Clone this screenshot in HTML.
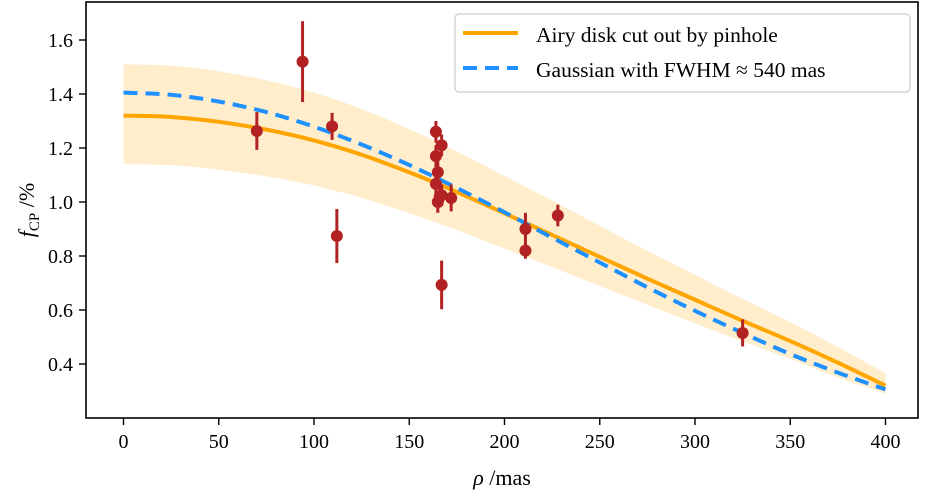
<!DOCTYPE html>
<html><head><meta charset="utf-8"><style>
html,body{margin:0;padding:0;background:#fff}
svg text{font-family:"Liberation Serif","DejaVu Serif",serif;fill:#000}
</style></head><body>
<svg id="chart" width="925" height="493" xmlns="http://www.w3.org/2000/svg">
<g id="band"></g>
<g id="lines"></g>
<g id="pts"></g>
<rect x="86" y="2" width="832" height="416" fill="none" stroke="#000" stroke-width="1.6"/>
<g id="xt"></g>
<g id="yt"></g>
<text x="502" y="485" font-size="22" text-anchor="middle"><tspan font-style="italic">ρ</tspan> /mas</text>
<text transform="translate(34,210) rotate(-90)" font-size="22" text-anchor="middle"><tspan font-style="italic">f</tspan><tspan font-size="15" dy="5">CP</tspan><tspan dy="-5"> /%</tspan></text>
<g>
<rect x="455" y="14" width="455" height="78" rx="4" fill="#fff" fill-opacity="0.85" stroke="#ccc" stroke-width="1.2"/>
<line x1="463" y1="33" x2="518" y2="33" stroke="#ffa500" stroke-width="4"/>
<line x1="463" y1="68" x2="518" y2="68" stroke="#1e90ff" stroke-width="4" stroke-dasharray="14,8"/>
<text x="536" y="42" font-size="21.5">Airy disk cut out by pinhole</text>
<text x="536" y="77" font-size="21.5">Gaussian with FWHM ≈ 540 mas</text>
</g>
</svg>
<script>
const xTicks=[0,50,100,150,200,250,300,350,400];
const yTicks=[0.4,0.6,0.8,1.0,1.2,1.4,1.6];
const curveX=[0,25,50,75,100,125,150,175,200,225,250,275,300,325,350,375,400];
const airyY=[1.32,1.315,1.297,1.268,1.228,1.175,1.11,1.037,0.958,0.878,0.797,0.716,0.638,0.56,0.485,0.405,0.32];
const gaussY=[1.405,1.397,1.372,1.333,1.279,1.213,1.137,1.052,0.962,0.868,0.776,0.684,0.597,0.515,0.437,0.368,0.306];
const bandUpper=[1.51,1.505,1.484,1.451,1.405,1.344,1.27,1.187,1.096,1.005,0.912,0.819,0.73,0.641,0.555,0.463,0.366];
const bandLower=[1.14,1.136,1.12,1.095,1.061,1.015,0.959,0.896,0.828,0.759,0.689,0.619,0.551,0.484,0.419,0.35,0.29];
const ptX=[70,94,109.5,112,164,167,164,165,164,166,165,167,172,167,211,211,228,325];
const ptY=[1.263,1.52,1.28,0.874,1.26,1.21,1.17,1.11,1.067,1.02,1.0,1.025,1.015,0.693,0.9,0.82,0.95,0.515];
const ptErr=[0.07,0.15,0.05,0.1,0.04,0.04,0.04,0.04,0.05,0.04,0.04,0.04,0.05,0.09,0.06,0.03,0.04,0.05];
const NS='http://www.w3.org/2000/svg';
const sx=v=>123.5+v*1.905;
const sy=v=>364-(v-0.4)*270;
function mk(t,a,p){const e=document.createElementNS(NS,t);for(const k in a)e.setAttribute(k,a[k]);p.appendChild(e);return e;}
function smooth(pts,start){let d=start?'M'+pts[0][0]+','+pts[0][1]:'L'+pts[0][0]+','+pts[0][1];
for(let i=0;i<pts.length-1;i++){const p0=pts[Math.max(i-1,0)],p1=pts[i],p2=pts[i+1],p3=pts[Math.min(i+2,pts.length-1)];
const c1=[p1[0]+(p2[0]-p0[0])/6,p1[1]+(p2[1]-p0[1])/6],c2=[p2[0]-(p3[0]-p1[0])/6,p2[1]-(p3[1]-p1[1])/6];
d+=' C'+c1+' '+c2+' '+p2;}return d;}
const xt=document.getElementById('xt'),yt=document.getElementById('yt');
xTicks.forEach(v=>{const l=mk('line',{x1:sx(v),x2:sx(v),y1:418,y2:425,stroke:'#000','stroke-width':1.4},xt);


const t=mk('text',{x:sx(v),y:448,'font-size':20,'text-anchor':'middle'},xt);t.textContent=v;

});
yTicks.forEach(v=>{const l=mk('line',{x1:79,x2:86,y1:sy(v),y2:sy(v),stroke:'#000','stroke-width':1.4},yt);


const t=mk('text',{x:73,y:sy(v)+7,'font-size':20,'text-anchor':'end'},yt);t.textContent=v.toFixed(1);

});
const up=curveX.map((x,i)=>[sx(x),sy(bandUpper[i])]);
const lo=curveX.map((x,i)=>[sx(x),sy(bandLower[i])]).reverse();
const band=mk('path',{d:smooth(up,true)+' '+smooth(lo,false)+' Z',fill:'#ffa500','fill-opacity':0.2},document.getElementById('band'));


const L=document.getElementById('lines');
const a=mk('path',{d:smooth(curveX.map((x,i)=>[sx(x),sy(airyY[i])]),true),fill:'none',stroke:'#ffa500','stroke-width':4},L);


const g=mk('path',{d:smooth(curveX.map((x,i)=>[sx(x),sy(gaussY[i])]),true),fill:'none',stroke:'#1e90ff','stroke-width':4,'stroke-dasharray':'14,8'},L);


const P=document.getElementById('pts');
ptX.forEach((x,i)=>{const e=mk('line',{x1:sx(x),x2:sx(x),y1:sy(ptY[i]+ptErr[i]),y2:sy(ptY[i]-ptErr[i]),stroke:'#b22222','stroke-width':3},P);


const c=mk('circle',{cx:sx(x),cy:sy(ptY[i]),r:6,fill:'#b22222'},P);

});
</script>
</body></html>
